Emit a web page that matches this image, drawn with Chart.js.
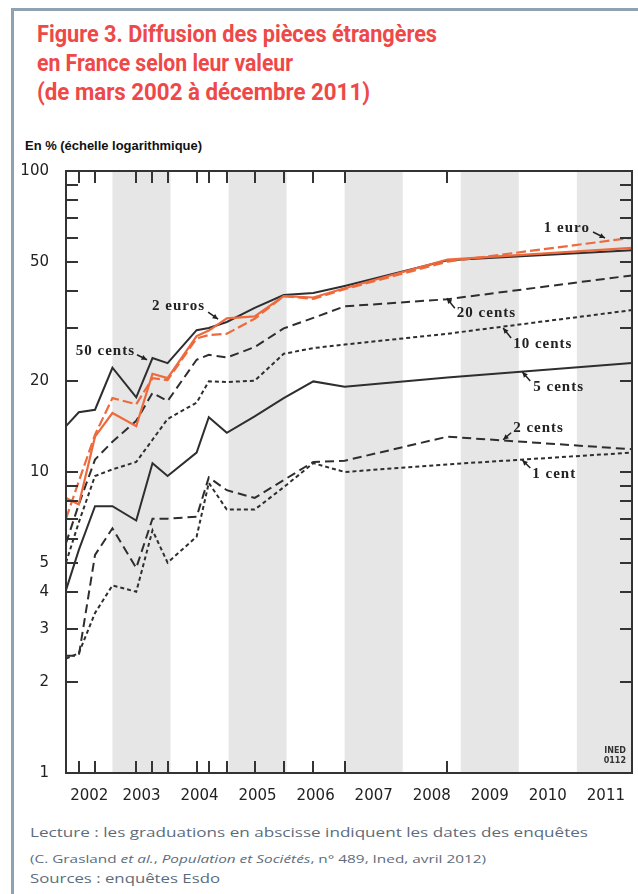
<!DOCTYPE html>
<html lang="fr">
<head>
<meta charset="utf-8">
<title>Figure 3</title>
<script src="https://cdn.jsdelivr.net/npm/chart.js@4.4.1/dist/chart.umd.min.js"></script>
<style>
  html, body { margin: 0; padding: 0; background: #fff; }
  body { width: 638px; height: 894px; position: relative; overflow: hidden; }
  #frame { position: absolute; left: 11px; top: 8px; width: 660px; height: 920px;
           border-left: 3px solid #8fa2b2; border-top: 3px solid #8fa2b2; }
  .t { position: absolute; left: 37px; white-space: nowrap; transform-origin: 0 0; }
  .title { font-family: Roboto, "Noto Sans", sans-serif; font-weight: bold; font-size: 24px; line-height: 24px; color: #ee4848; }
  .ytitle { left: 25px; font-family: "Liberation Sans", Arial, sans-serif; font-weight: bold; font-size: 12px; line-height: 12px; color: #111; }
  .foot { left: 30px; font-family: "Open Sans", sans-serif; color: #5d6c7b; }
  #wrap { position: absolute; left: 0; top: 150px; width: 638px; height: 660px; }
</style>
</head>
<body>
<div id="frame"></div>
<div class="t title fit" data-w="400" style="top:22px">Figure 3. Diffusion des pièces étrangères</div>
<div class="t title fit" data-w="256" style="top:51px">en France selon leur valeur</div>
<div class="t title fit" data-w="333" style="top:80px">(de mars 2002 à décembre 2011)</div>
<div class="t ytitle fit" data-w="177" style="top:140px">En % (échelle logarithmique)</div>
<div id="wrap"><canvas id="chart" width="638" height="660"></canvas></div>
<div class="t foot fit" data-w="558" style="top:825px;font-size:13px;line-height:14px">Lecture : les graduations en abscisse indiquent les dates des enquêtes</div>
<div class="t foot fit" data-w="456" style="top:853px;font-size:11px;line-height:12px">(C. Grasland <i>et al.</i>, <i>Population et Sociétés</i>, n° 489, Ined, avril 2012)</div>
<div class="t foot fit" data-w="190" style="top:871px;font-size:13px;line-height:14px">Sources : enquêtes Esdo</div>
<script>
// ─── data ────────────────────────────────────────────────────────────────
const surveyDates = [2002.2, 2002.42, 2002.7, 2003.0, 2003.41, 2003.69, 2003.95, 2004.45,
                     2004.66, 2004.97, 2005.45, 2005.95, 2006.46, 2007.0, 2008.77, 2011.95];
const tickDates = [2002.42, 2002.7, 2003.41, 2003.69, 2003.95, 2004.45, 2004.66, 2004.97,
                   2005.45, 2005.95, 2006.46, 2007.0, 2008.77];

const euro1   = [7.0, 9.3, 13.3, 17.6, 16.8, 20.5, 20.2, 27.8, 28.5, 28.8, 32.3, 38.4, 37.6, 40.5, 50.0, 60.0];
const euro2   = [8.2, 7.8, 13.1, 15.7, 14.2, 21.2, 20.5, 28.3, 29.5, 32.4, 32.9, 38.4, 38.0, 40.8, 50.8, 55.5];
const cents50 = [14.2, 15.8, 16.1, 22.2, 17.7, 23.9, 23.0, 29.6, 30.1, 31.5, 35.1, 38.7, 39.3, 41.5, 50.5, 54.5];
const cents20 = [5.8, 7.8, 11.0, 12.6, 14.8, 18.3, 17.2, 23.6, 24.5, 24.0, 26.0, 30.0, 32.5, 35.5, 37.5, 45.0];
const cents10 = [5.0, 6.8, 9.7, 10.2, 10.8, 12.8, 15.0, 17.0, 20.0, 19.9, 20.1, 24.7, 25.8, 26.5, 28.8, 34.5];
const cents5  = [4.05, 5.5, 7.7, 7.7, 6.9, 10.7, 9.7, 11.6, 15.2, 13.5, 15.3, 17.6, 20.0, 19.2, 20.6, 23.0];
const cents2  = [2.45, 2.45, 5.3, 6.5, 4.8, 7.0, 7.0, 7.1, 9.6, 8.7, 8.2, 9.4, 10.8, 10.9, 13.1, 11.9];
const cent1   = [2.4, 2.5, 3.4, 4.2, 4.0, 6.4, 5.0, 6.1, 9.2, 7.5, 7.5, 8.9, 10.7, 10.0, 10.6, 11.6];

const yearLabels = ['2002', '2003', '2004', '2005', '2006', '2007', '2008', '2009', '2010', '2011'];
const yearLabelPos = [2002.6, 2003.5, 2004.5, 2005.5, 2006.5, 2007.5, 2008.5, 2009.5, 2010.5, 2011.5];
const shadedYears = [2003, 2005, 2007, 2009, 2011];
const yLabels = [1, 2, 3, 4, 5, 10, 20, 50, 100];
const yMarks = [1, 2, 3, 4, 5, 6, 7, 8, 9, 10, 20, 30, 40, 50, 60, 70, 80, 90, 100];

// series labels: text, arrow tip [year, %]
const seriesNotes = [
  { text: '1 euro',   tip: [2011.485, 59.9], dx: -15, dy: -10, align: 'right', ax: -12, ay: -6 },
  { text: '2 euros',  tip: [2004.82, 32.2],  dx: -13, dy: -13, align: 'right', ax: -10, ay: -7 },
  { text: '50 cents', tip: [2003.595, 23.6], dx: -12, dy: -9,  align: 'right', ax: -10, ay: -5 },
  { text: '20 cents', tip: [2008.76, 37.8],  dx: 10,  dy: 15,  align: 'left',  ax: 8,   ay: 10 },
  { text: '10 cents', tip: [2009.73, 30.1],  dx: 10,  dy: 16,  align: 'left',  ax: 8,   ay: 10 },
  { text: '5 cents',  tip: [2010.06, 21.5],  dx: 11,  dy: 15,  align: 'left',  ax: 8,   ay: 9 },
  { text: '2 cents',  tip: [2009.73, 12.8],  dx: 10,  dy: -12, align: 'left',  ax: 8,   ay: -7 },
  { text: '1 cent',   tip: [2010.06, 10.96], dx: 10,  dy: 14,  align: 'left',  ax: 8,   ay: 8 }
];

const INK = '#2e2e2e';
const ORANGE = '#ee6a3c';
const LONG = [9, 5];
const SHORT = [4, 3];

function series(values, color, dash, width) {
  return {
    data: values.map((v, i) => ({ x: surveyDates[i], y: v })),
    borderColor: color, borderWidth: width || 2, borderDash: dash,
    pointRadius: 0, tension: 0, fill: false
  };
}

// ─── plugins ─────────────────────────────────────────────────────────────
const bands = {
  id: 'bands',
  beforeDatasetsDraw(chart) {
    const { ctx, chartArea: a, scales: { x } } = chart;
    ctx.save();
    ctx.fillStyle = '#e6e6e6';
    shadedYears.forEach(yr => {
      const x1 = Math.max(x.getPixelForValue(yr), a.left);
      const x2 = Math.min(x.getPixelForValue(yr + 1), a.right);
      ctx.fillRect(x1, a.top, x2 - x1, a.bottom - a.top);
    });
    ctx.restore();
  }
};

const frame = {
  id: 'frame',
  afterDatasetsDraw(chart) {
    const { ctx, chartArea: a, scales: { x, y } } = chart;
    const len = 12;
    ctx.save();
    ctx.strokeStyle = '#333';
    ctx.lineWidth = 2;
    ctx.strokeRect(a.left, a.top, a.right - a.left, a.bottom - a.top);
    ctx.beginPath();
    yMarks.forEach(v => {
      const py = Math.round(y.getPixelForValue(v));
      ctx.moveTo(a.left, py); ctx.lineTo(a.left + len, py);
      ctx.moveTo(a.right, py); ctx.lineTo(a.right - len, py);
    });
    tickDates.forEach(d => {
      const px = Math.round(x.getPixelForValue(d));
      ctx.moveTo(px, a.top); ctx.lineTo(px, a.top + len);
      ctx.moveTo(px, a.bottom); ctx.lineTo(px, a.bottom - len);
    });
    ctx.stroke();

    // tiny credit
    ctx.fillStyle = '#333';
    ctx.font = 'bold 8px "DejaVu Sans", sans-serif';
    ctx.textAlign = 'right';
    ctx.fillText('INED', a.right - 6, a.bottom - 20);
    ctx.fillText('0112', a.right - 6, a.bottom - 10);
    ctx.restore();
  }
};

const notes = {
  id: 'notes',
  afterDatasetsDraw(chart) {
    const { ctx, scales: { x, y } } = chart;
    ctx.save();
    ctx.fillStyle = '#222';
    ctx.strokeStyle = '#222';
    ctx.font = 'bold 15px "Liberation Serif", "DejaVu Serif", serif';
    if ('letterSpacing' in ctx) ctx.letterSpacing = '1px';
    ctx.textBaseline = 'middle';
    seriesNotes.forEach(n => {
      const tx = x.getPixelForValue(n.tip[0]);
      const ty = y.getPixelForValue(n.tip[1]);
      ctx.textAlign = n.align;
      ctx.fillText(n.text, tx + n.dx, ty + n.dy);
      // arrow
      const sx = tx + n.ax, sy = ty + n.ay;
      ctx.lineWidth = 1.5;
      ctx.beginPath(); ctx.moveTo(sx, sy); ctx.lineTo(tx, ty); ctx.stroke();
      const ang = Math.atan2(ty - sy, tx - sx);
      ctx.beginPath();
      ctx.moveTo(tx, ty);
      ctx.lineTo(tx - 6 * Math.cos(ang - 0.45), ty - 6 * Math.sin(ang - 0.45));
      ctx.lineTo(tx - 6 * Math.cos(ang + 0.45), ty - 6 * Math.sin(ang + 0.45));
      ctx.closePath(); ctx.fill();
    });
    ctx.restore();
  }
};

// ─── chart ───────────────────────────────────────────────────────────────
const tickFont = { family: '"DejaVu Sans", sans-serif', size: 15 };

new Chart(document.getElementById('chart'), {
  type: 'line',
  data: {
    datasets: [
      series(euro1, ORANGE, [10, 4], 2.2),
      series(euro2, ORANGE, [], 2.2),
      series(cents50, INK, []),
      series(cents20, INK, LONG),
      series(cents10, INK, SHORT),
      series(cents5, INK, []),
      series(cents2, INK, LONG),
      series(cent1, INK, SHORT)
    ]
  },
  options: {
    responsive: false,
    animation: false,
    events: [],
    layout: { padding: { left: 22, top: 21, right: 6, bottom: 7 } },
    plugins: { legend: { display: false }, tooltip: { enabled: false } },
    scales: {
      x: {
        type: 'linear', min: 2002.2, max: 2011.95,
        grid: { display: false }, border: { display: false },
        afterBuildTicks: s => { s.ticks = yearLabelPos.map(v => ({ value: v })); },
        afterFit: s => { s.height = 30; },
        ticks: {
          autoSkip: false, maxRotation: 0, padding: 6, color: '#222', font: tickFont,
          callback: (v, i) => yearLabels[i]
        }
      },
      y: {
        type: 'logarithmic', min: 1, max: 100, position: 'left',
        grid: { display: false }, border: { display: false },
        afterBuildTicks: s => { s.ticks = yLabels.map(v => ({ value: v })); },
        afterFit: s => { s.width = 44; },
        ticks: {
          autoSkip: false, padding: 9, color: '#222', font: tickFont,
          callback: v => String(v)
        }
      }
    }
  },
  plugins: [bands, frame, notes]
});

// squeeze text blocks to the measured widths of the original
document.querySelectorAll('.fit').forEach(el => {
  const w = el.getBoundingClientRect().width;
  el.style.transform = 'scaleX(' + (Number(el.dataset.w) / w) + ')';
});
</script>
</body>
</html>
